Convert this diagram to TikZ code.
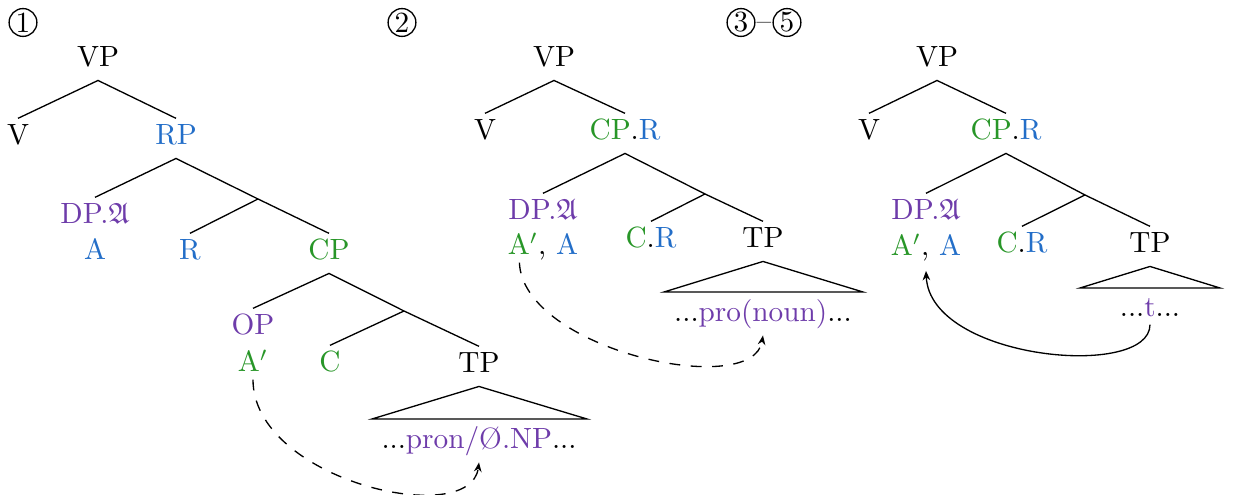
\documentclass[tikz,border=0pt]{standalone}
\usepackage{amssymb}
\usetikzlibrary{arrows.meta}
\definecolor{cpurple}{RGB}{110,60,170}
\definecolor{cgreen}{RGB}{40,150,40}
\definecolor{cblue}{RGB}{35,110,200}
\begin{document}
\begin{tikzpicture}[x=0.3415pt,y=-0.3415pt,
  lab/.style={anchor=base, inner xsep=1pt, inner ysep=2pt, text height=6.9pt, text depth=2.4pt},
  labtwo/.style={anchor=base, inner xsep=1pt, inner ysep=0pt, text height=6.9pt, text depth=2.4pt},
  br/.style={line width=0.45pt},
  movedash/.style={dash pattern=on 3.7pt off 3.6pt},
  circ/.style={circle, draw, line width=0.45pt, minimum size=9.5pt, inner sep=0pt},
  tip/.style={-{Stealth[length=3.2pt,width=2.6pt]}}]
\useasboundingbox (0,0) rectangle (1236,495);
% circled numbers
\node[circ] (n1) at (23,22.5) {1};
\node[circ] (n2) at (402,22.5) {2};
\node[circ] (n3) at (741,22.5) {3};
\node[circ] (n5) at (787,22.5) {5};
\node[anchor=base, inner sep=0pt] (dash) at (764,31) {--};
% tree 1
\node[lab] (vp1) at (98,67) {VP};
\node[lab] (v1) at (18,145) {V};
\node[lab,text=cblue] (rp1) at (176,145) {RP};
\node[lab,text=cpurple] (dp1) at (95,224) {DP.$\mathfrak{A}$};
\node[labtwo,text=cblue] (a1) at (95,260) {A};
\coordinate (rbar1) at (258,199);
\node[lab,text=cblue] (r1) at (190,260) {R};
\node[lab,text=cgreen] (cp1) at (329,260) {CP};
\node[lab,text=cpurple] (op1) at (253,335) {OP};
\node[labtwo,text=cgreen] (ap1) at (253,372) {A$'$};
\coordinate (cbar1) at (404,311);
\node[lab,text=cgreen] (c1) at (330,372) {C};
\node[lab] (tp1) at (479,373) {TP};
\coordinate (t1l) at (372,419);
\coordinate (t1r) at (587,419);
\node[lab] (s1) at (479,449) {...\textcolor{cpurple}{pron/\O.NP}...};
\draw[br] (v1.north) -- (vp1.south) -- (rp1.north);
\draw[br] (dp1.north) -- (rp1.south) -- (rbar1) -- (cp1.north);
\draw[br] (rbar1) -- (r1.north);
\draw[br] (op1.north) -- (cp1.south) -- (cbar1) -- (tp1.north);
\draw[br] (cbar1) -- (c1.north);
\draw[br] (tp1.south) -- (t1r) -- (t1l) -- cycle;
\draw[br,movedash,tip] (ap1.south) .. controls (253,480) and (470,530) .. (s1.south);
% tree 2
\node[lab] (vp2) at (554,67) {VP};
\node[lab] (v2) at (485,140) {V};
\node[lab] (cp2) at (625,140) {\textcolor{cgreen}{CP}.\textcolor{cblue}{R}};
\node[lab,text=cpurple] (dp2) at (543,220) {DP.$\mathfrak{A}$};
\node[labtwo] (a2) at (543,255) {\textcolor{cgreen}{A$'$}, \textcolor{cblue}{A}};
\coordinate (cbar2) at (705,194);
\node[lab] (cr2) at (651,248) {\textcolor{cgreen}{C}.\textcolor{cblue}{R}};
\node[lab] (tp2) at (763,248) {TP};
\coordinate (t2l) at (664,292);
\coordinate (t2r) at (863,292);
\node[lab] (s2) at (763,322) {...\textcolor{cpurple}{pro(noun)}...};
\draw[br] (v2.north) -- (vp2.south) -- (cp2.north);
\draw[br] (dp2.north) -- (cp2.south) -- (cbar2) -- (tp2.north);
\draw[br] (cbar2) -- (cr2.north);
\draw[br] (tp2.south) -- (t2r) -- (t2l) -- cycle;
\draw[br,movedash,tip] ([xshift=5.1pt]a2.south west) .. controls (523,350) and (753,400) .. (s2.south);
% tree 3
\node[lab] (vp3) at (937,67) {VP};
\node[lab] (v3) at (869,140) {V};
\node[lab] (cp3) at (1006,140) {\textcolor{cgreen}{CP}.\textcolor{cblue}{R}};
\node[lab,text=cpurple] (dp3) at (926,220) {DP.$\mathfrak{A}$};
\node[labtwo] (a3) at (926,256) {\textcolor{cgreen}{A$'$}, \textcolor{cblue}{A}};
\coordinate (cbar3) at (1085,195);
\node[lab] (cr3) at (1022,253) {\textcolor{cgreen}{C}.\textcolor{cblue}{R}};
\node[lab] (tp3) at (1150,253) {TP};
\coordinate (t3l) at (1080,288);
\coordinate (t3r) at (1220,288);
\node[labtwo] (s3) at (1150,317) {...\textcolor{cpurple}{t}...};
\draw[br] (v3.north) -- (vp3.south) -- (cp3.north);
\draw[br] (dp3.north) -- (cp3.south) -- (cbar3) -- (tp3.north);
\draw[br] (cbar3) -- (cr3.north);
\draw[br] (tp3.south) -- (t3r) -- (t3l) -- cycle;
\draw[br,tip] (s3.south) .. controls (1150,380) and (930,360) .. ([yshift=-2.5pt]a3.south);
\end{tikzpicture}
\end{document}
